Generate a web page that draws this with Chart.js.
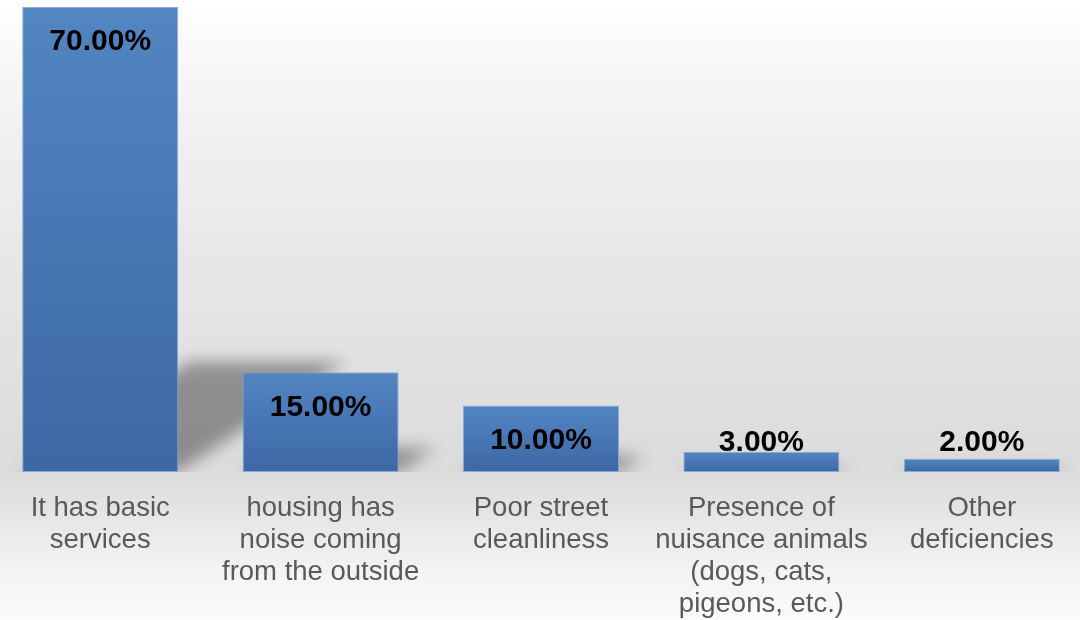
<!DOCTYPE html>
<html>
<head>
<meta charset="utf-8">
<script src="https://cdn.jsdelivr.net/npm/chart.js@4.4.0/dist/chart.umd.min.js"></script>
<style>
  html, body {
    margin: 0;
    padding: 0;
    width: 1080px;
    height: 620px;
    overflow: hidden;
  }
  body {
    background: linear-gradient(to bottom, #ffffff 0%, #f2f2f2 18%, #e6e6e6 45%, #dddddd 70%, #dcdcdc 76%, #e4e4e4 82%, #f3f3f3 92%, #fbfbfb 100%);
  }
  #wrap {
    position: absolute;
    left: -10px;
    top: 0;
    width: 1102px;
    height: 620px;
  }
</style>
</head>
<body>
<div id="wrap"><canvas id="barChart"></canvas></div>
<script>
// Categories (split into the lines shown under each bar) and their shares in %
const categories = [
    ['It has basic', 'services'],
    ['housing has', 'noise coming', 'from the outside'],
    ['Poor street', 'cleanliness'],
    ['Presence of', 'nuisance animals', '(dogs, cats,', 'pigeons, etc.)'],
    ['Other', 'deficiencies']
];
const shares = [70, 15, 10, 3, 2];
const yMin = 0;
const yMax = 70;

const fontFamily = '"Liberation Sans", Arial, Helvetica, sans-serif';

// Per-bar vertical gradient, lighter at the top
function barGradient(context) {
    const chart = context.chart;
    const yScale = chart.scales.y;
    if (!chart.chartArea || !yScale || context.raw === undefined) return '#4a7cba';
    const top = yScale.getPixelForValue(context.raw);
    const bottom = yScale.getPixelForValue(0);
    const g = chart.ctx.createLinearGradient(0, top, 0, Math.max(bottom, top + 1));
    g.addColorStop(0, '#5385c3');
    g.addColorStop(1, '#3c68a4');
    return g;
}

// Soft slanted shadow cast by each bar onto the back wall
const barShadows = {
    id: 'barShadows',
    beforeDatasetsDraw(chart) {
        const ctx = chart.ctx;
        const meta = chart.getDatasetMeta(0);
        ctx.save();
        ctx.beginPath();
        ctx.rect(chart.chartArea.left, chart.chartArea.top, chart.chartArea.width, chart.chartArea.height);
        ctx.clip();
        ctx.filter = 'blur(8px)';
        ctx.fillStyle = 'rgba(0, 0, 0, 0.36)';
        meta.data.forEach(bar => {
            const p = bar.getProps(['x', 'y', 'base', 'width'], true);
            const h = (p.base - p.y) * 0.237;
            const s = h * 1.52;
            const left = p.x - p.width / 2;
            const right = p.x + p.width / 2;
            ctx.beginPath();
            ctx.moveTo(left, p.base);
            ctx.lineTo(right, p.base);
            ctx.lineTo(right + s, p.base - h);
            ctx.lineTo(left + s, p.base - h);
            ctx.closePath();
            ctx.fill();
        });
        ctx.restore();
    }
};

// Value labels near the top of each bar
const valueLabels = {
    id: 'valueLabels',
    afterDatasetsDraw(chart) {
        const ctx = chart.ctx;
        const meta = chart.getDatasetMeta(0);
        ctx.save();
        ctx.font = 'bold 30px ' + fontFamily;
        ctx.fillStyle = '#000000';
        ctx.textAlign = 'center';
        ctx.textBaseline = 'middle';
        meta.data.forEach((bar, i) => {
            const p = bar.getProps(['x', 'y', 'base'], true);
            const y = Math.min(p.y + 35, p.base - 29);
            ctx.fillText(shares[i].toFixed(2) + '%', p.x, y);
        });
        ctx.restore();
    }
};

const barChartCtx = document.getElementById('barChart').getContext('2d');
const barChart = new Chart(barChartCtx, {
    type: 'bar',
    data: {
        labels: categories,
        datasets: [{
            data: shares,
            backgroundColor: barGradient,
            borderColor: 'rgba(125, 165, 215, 0.9)',
            borderWidth: 1,
            borderSkipped: false,
            barPercentage: 0.708,
            categoryPercentage: 1.0
        }]
    },
    options: {
        responsive: true,
        maintainAspectRatio: false,
        animation: false,
        layout: {
            padding: { top: 7, left: 0, right: 0, bottom: 0 }
        },
        plugins: {
            legend: { display: false },
            tooltip: { enabled: false }
        },
        scales: {
            x: {
                grid: { display: false, drawTicks: false },
                border: { display: false },
                ticks: {
                    color: '#595959',
                    padding: 20,
                    maxRotation: 0,
                    autoSkip: false,
                    font: { family: fontFamily, size: 27.5, lineHeight: 1.164 }
                },
                afterFit(scale) {
                    scale.height = 148;
                }
            },
            y: {
                display: false,
                min: yMin,
                max: yMax
            }
        }
    },
    plugins: [barShadows, valueLabels]
});
</script>
</body>
</html>
